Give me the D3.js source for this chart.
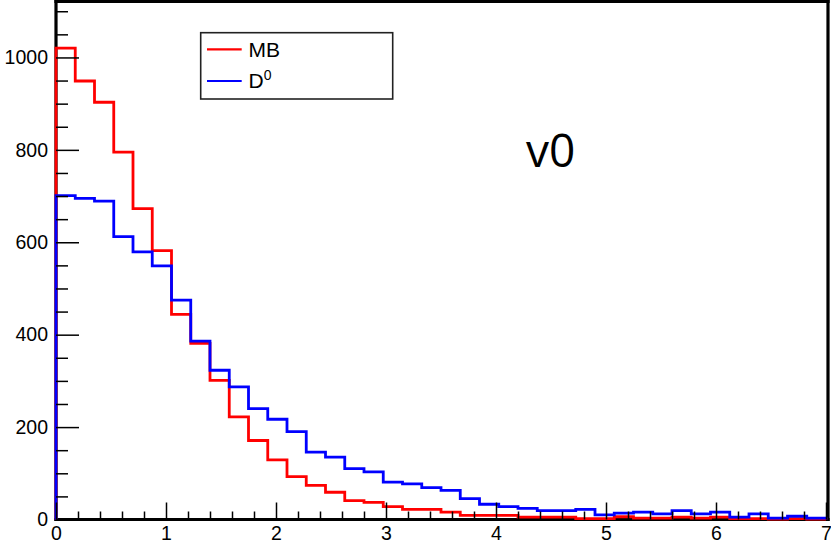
<!DOCTYPE html>
<html>
<head>
<meta charset="utf-8">
<script src="https://cdn.jsdelivr.net/npm/d3@7/dist/d3.min.js"></script>
<style>
  html, body { margin: 0; padding: 0; background: #fff; }
  svg { display: block; }
</style>
</head>
<body>
<svg id="chart" width="831" height="546"></svg>
<script>
// Histogram binning: 40 bins over [0, 7]
const binLow = 0;
const binHigh = 7;
const binCount = 40;

// Bin contents
const mbCounts = [1020, 949, 903, 795, 673, 582, 444, 381, 301, 222,
                  171, 129, 93, 74, 59, 41, 37, 28, 22, 22,
                  16, 9, 9, 9, 5, 5, 5, 2, 2, 6,
                  3, 3, 5, 3, 5, 2, 2, 1, 2, 1];
const d0Counts = [701, 695, 689, 612, 579, 549, 475, 386, 323, 287,
                  240, 217, 190, 146, 135, 110, 103, 81, 77, 69,
                  63, 45, 33, 28, 24, 19, 19, 22, 10, 14,
                  16, 12, 19, 12, 16, 5, 12, 3, 7, 3];

// Axis ticks
const xMajorTicks = [0, 1, 2, 3, 4, 5, 6, 7];
const yMajorTicks = [0, 200, 400, 600, 800, 1000];
const yMax = 1120;

const seriesNames = ["MB", "D0"];
const seriesColors = ["#ff0000", "#0000ff"];
const plotLabel = "v0";

const svg = d3.select("#chart");
const frameLeft = 56, frameRight = 826, frameTop = 2, frameBottom = 519.5;

const x = d3.scaleLinear().domain([binLow, binHigh]).range([frameLeft, frameRight]);
const y = d3.scaleLinear().domain([0, yMax]).range([frameBottom, frameTop]);

const binWidth = (binHigh - binLow) / binCount;
const xMinor = d3.range(0, Math.round((binHigh - binLow) / 0.2) + 1).map(i => +(i * 0.2).toFixed(2))
  .filter(v => !xMajorTicks.includes(v));
const yMinor = d3.range(0, yMax + 1, 50).filter(v => v % 200 !== 0);

// frame: four heavy black edges
const frame = svg.append("g").attr("stroke", "#000").attr("stroke-width", 3.2).attr("stroke-linecap", "square");
frame.append("line").attr("x1", frameLeft).attr("x2", frameRight + 2).attr("y1", frameTop - 0.5).attr("y2", frameTop - 0.5);
frame.append("line").attr("x1", frameRight + 2).attr("x2", frameRight + 2).attr("y1", frameTop - 0.5).attr("y2", frameBottom);
frame.append("line").attr("x1", frameLeft).attr("x2", frameRight + 2).attr("y1", frameBottom).attr("y2", frameBottom);
frame.append("line").attr("x1", frameLeft).attr("x2", frameLeft).attr("y1", frameTop - 0.5).attr("y2", frameBottom);

// step outline of a histogram, starting and ending at zero
function stepPath(counts) {
  const pts = [[x(binLow), y(0)]];
  counts.forEach((c, i) => {
    const x0 = x(binLow + i * binWidth), x1 = x(binLow + (i + 1) * binWidth);
    pts.push([x0, y(c)], [x1, y(c)]);
  });
  pts.push([x(binHigh), y(0)]);
  return d3.line()(pts);
}

[mbCounts, d0Counts].forEach((counts, i) => {
  svg.append("path")
    .attr("d", stepPath(counts))
    .attr("fill", "none")
    .attr("stroke", seriesColors[i])
    .attr("stroke-width", 2.8)
    .attr("stroke-linejoin", "miter");
});

// ticks pointing into the frame
const tickStyle = g => {
  g.select(".domain").remove();
  g.selectAll("line").attr("stroke", "#000").attr("stroke-width", 1.5);
};
svg.append("g").attr("transform", `translate(${frameLeft},0)`)
  .call(d3.axisRight(y).tickValues(yMajorTicks).tickSize(23).tickFormat(""))
  .call(tickStyle);
svg.append("g").attr("transform", `translate(${frameLeft},0)`)
  .call(d3.axisRight(y).tickValues(yMinor).tickSize(12).tickFormat(""))
  .call(tickStyle);
svg.append("g").attr("transform", `translate(0,${frameBottom})`)
  .call(d3.axisTop(x).tickValues(xMajorTicks).tickSize(17).tickFormat(""))
  .call(tickStyle);
svg.append("g").attr("transform", `translate(0,${frameBottom})`)
  .call(d3.axisTop(x).tickValues(xMinor).tickSize(8).tickFormat(""))
  .call(tickStyle);

// tick labels
const labelStyle = g => {
  g.select(".domain").remove();
  g.selectAll("line").remove();
  g.selectAll("text").attr("font-family", "'Liberation Sans', Arial, sans-serif")
    .attr("font-size", 19.5).attr("fill", "#000");
};
svg.append("g").attr("transform", `translate(${frameLeft},0)`)
  .call(d3.axisLeft(y).tickValues(yMajorTicks).tickSize(0).tickPadding(8).tickFormat(d3.format("d")))
  .call(labelStyle);
svg.append("g").attr("transform", `translate(0,${frameBottom})`)
  .call(d3.axisBottom(x).tickValues(xMajorTicks).tickSize(0).tickPadding(6.5).tickFormat(d3.format("d")))
  .call(labelStyle);

// legend
const leg = svg.append("g");
leg.append("rect").attr("x", 200.7).attr("y", 32.7).attr("width", 192).attr("height", 66.3)
  .attr("fill", "#fff").attr("stroke", "#222").attr("stroke-width", 1.6);
const legRows = [49.3, 81];
seriesNames.forEach((name, i) => {
  leg.append("line").attr("x1", 207).attr("x2", 241.7)
    .attr("y1", legRows[i]).attr("y2", legRows[i])
    .attr("stroke", seriesColors[i]).attr("stroke-width", 2.2);
});
const legFont = "'Liberation Sans', Arial, sans-serif";
leg.append("text").attr("x", 248.5).attr("y", 56.7)
  .attr("font-family", legFont).attr("font-size", 21).text("MB");
const d0Text = leg.append("text").attr("x", 248.5).attr("y", 88.3)
  .attr("font-family", legFont).attr("font-size", 21);
d0Text.append("tspan").text("D");
d0Text.append("tspan").attr("font-size", 14).attr("dy", -8.3).text("0");

// plot label
svg.append("text").attr("x", 526).attr("y", 167)
  .attr("font-family", "'Open Sans', 'Noto Sans', sans-serif")
  .attr("font-size", 46).attr("fill", "#000").text(plotLabel);
</script>
</body>
</html>
